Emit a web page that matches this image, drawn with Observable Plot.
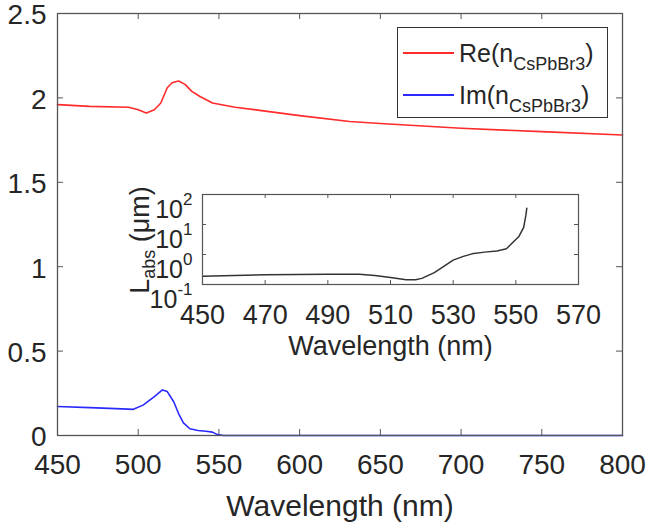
<!DOCTYPE html>
<html>
<head>
<meta charset="utf-8">
<script src="https://cdn.jsdelivr.net/npm/d3@7"></script>
<script src="https://cdn.jsdelivr.net/npm/@observablehq/plot@0.6"></script>
<style>
  body { margin: 0; background: white; }
  #wrap { position: relative; width: 647px; height: 524px; font-family: "Liberation Sans", Arial, sans-serif; color: #262626; overflow: hidden; }
  #wrap > * { position: absolute; }
  .legend { left: 397px; top: 27px; width: 211px; height: 91px; border: 1px solid #333; background: white; box-sizing: border-box; }
  .legend .row { position: absolute; left: 5px; height: 30px; display: flex; align-items: center; font-size: 25px; white-space: nowrap; }
  .legend .sw { display: inline-block; width: 51px; height: 2px; margin-right: 5px; }
  .legend sub { font-size: 18px; vertical-align: -8px; line-height: 0; }
  .ylab { left: 140px; top: 240px; transform: translate(-50%, -50%) rotate(-90deg); font-size: 27px; white-space: nowrap; }
  .ylab sub { font-size: 18px; vertical-align: -6px; line-height: 0; }
</style>
</head>
<body>
<div id="wrap"></div>
<script>
// ---- data ----
const reWl = [450, 470, 494, 500, 505, 510, 514, 518, 521, 525, 529, 533, 538, 546, 560, 580, 600, 631, 650, 700, 750, 800];
const reN  = [1.96, 1.95, 1.945, 1.93, 1.91, 1.93, 1.97, 2.06, 2.09, 2.10, 2.08, 2.04, 2.01, 1.97, 1.945, 1.92, 1.895, 1.86, 1.848, 1.82, 1.80, 1.78];

const imWl = [450, 470, 490, 497, 503, 510, 515, 518, 522, 525, 528, 532, 537, 542, 546, 549, 553, 600, 700, 800];
const imN  = [0.172, 0.165, 0.158, 0.155, 0.18, 0.23, 0.27, 0.26, 0.2, 0.13, 0.075, 0.04, 0.03, 0.025, 0.02, 0.005, 0, 0, 0, 0];

const labsWl = [450, 470, 490, 500, 505, 510, 515, 518, 520, 524, 527, 530, 533, 536, 540, 544, 547, 549, 551, 552.5, 553.2, 553.5];
const labsL  = [0.19, 0.21, 0.22, 0.22, 0.2, 0.17, 0.145, 0.145, 0.16, 0.25, 0.4, 0.65, 0.85, 1.05, 1.2, 1.3, 1.55, 2.5, 4, 8, 20, 35];

const xTicks = [450, 500, 550, 600, 650, 700, 750, 800];
const yTicks = [0, 0.5, 1, 1.5, 2, 2.5];
const insetXTicks = [450, 470, 490, 510, 530, 550, 570];
const insetYTicks = [0.1, 1, 10, 100];

const legendLabels = ["Re", "Im"];
const legendColors = ["#ff2a2a", "#2a2aff"];
const material = "CsPbBr3";
const xLabel = "Wavelength (nm)";

// ---- main plot ----
const reData = reWl.map((w, i) => ({w, v: reN[i]}));
const imData = imWl.map((w, i) => ({w, v: imN[i]}));
const labsData = labsWl.map((w, i) => ({w, v: labsL[i]}));

const W = 647, H = 524;
const mL = 57, mR = 25, mT = 13, mB = 89;
const iW = W - mL - mR, iH = H - mT - mB;
const axisColor = "#555";
const tickLen = 6;

const main = Plot.plot({
  width: W, height: H,
  marginLeft: mL, marginRight: mR, marginTop: mT, marginBottom: mB,
  style: {fontFamily: '"Liberation Sans", Arial, sans-serif', fontSize: "30px", color: "#262626", background: "white", overflow: "visible"},
  x: {domain: [450, 800]},
  y: {domain: [0, 2.5]},
  marks: [
    Plot.tickX(xTicks, {x: d => d, insetTop: iH - tickLen, stroke: axisColor}),
    Plot.tickX(xTicks, {x: d => d, insetBottom: iH - tickLen, stroke: axisColor}),
    Plot.tickY(yTicks, {y: d => d, insetRight: iW - tickLen, stroke: axisColor}),
    Plot.tickY(yTicks, {y: d => d, insetLeft: iW - tickLen, stroke: axisColor}),
    Plot.line(reData, {x: "w", y: "v", stroke: legendColors[0], strokeWidth: 1.6}),
    Plot.line(imData, {x: "w", y: "v", stroke: legendColors[1], strokeWidth: 1.6}),
    Plot.frame({stroke: axisColor, strokeWidth: 1.3}),
    Plot.axisX({ticks: xTicks, tickSize: 0, tickPadding: 19, fontSize: 28, tickFormat: d => String(d),
      label: null, fill: "#262626"}),
    Plot.axisX({ticks: [], tickSize: 0, label: xLabel, labelAnchor: "center", labelArrow: "none", labelOffset: 80, fill: "#262626"}),
    Plot.axisY({ticks: yTicks, tickSize: 0, tickPadding: 11, dy: 2, fontSize: 28, tickFormat: d => String(d), label: null, fill: "#262626"})
  ]
});

// ---- inset ----
const insW = 460, insH = 175;
const imL = 62, imR = 22, imT = 9, imB = 76;
const iiW = insW - imL - imR, iiH = insH - imT - imB;

const inset = Plot.plot({
  width: insW, height: insH,
  marginLeft: imL, marginRight: imR, marginTop: imT, marginBottom: imB,
  style: {fontFamily: '"Liberation Sans", Arial, sans-serif', fontSize: "27px", color: "#262626", background: "white", overflow: "visible"},
  x: {domain: [450, 570]},
  y: {type: "log", domain: [0.1, 100]},
  marks: [
    Plot.tickX(insetXTicks, {x: d => d, insetTop: iiH - 4, stroke: axisColor}),
    Plot.tickX(insetXTicks, {x: d => d, insetBottom: iiH - 4, stroke: axisColor}),
    Plot.tickY(insetYTicks, {y: d => d, insetRight: iiW - 4, stroke: axisColor}),
    Plot.tickY(insetYTicks, {y: d => d, insetLeft: iiW - 4, stroke: axisColor}),
    Plot.line(labsData, {x: "w", y: "v", stroke: "#333", strokeWidth: 1.5}),
    Plot.frame({stroke: axisColor, strokeWidth: 1.2}),
    Plot.axisX({ticks: insetXTicks, tickSize: 0, tickPadding: 20, tickFormat: d => String(d),
      label: xLabel, labelAnchor: "center", labelArrow: "none", labelOffset: 70, fill: "#262626"}),
    Plot.axisY({ticks: insetYTicks, tickSize: 0, tickPadding: 10, tickFormat: d => "10|" + Math.round(Math.log10(d)),
      label: null, fill: "#262626", fontSize: 25})
  ]
});

// superscripts for the log tick labels
d3.select(inset).selectAll("text").each(function() {
  const t = d3.select(this);
  const s = t.text();
  if (s.startsWith("10|")) {
    const e = s.slice(3);
    t.text("");
    t.append("tspan").text("10");
    t.append("tspan").attr("font-size", "17px").attr("dy", "-0.75em").text(e);
    t.attr("dy", "0.6em");
  }
});

const wrap = document.getElementById("wrap");
main.style.left = "0px"; main.style.top = "0px";
wrap.appendChild(main);
inset.style.left = "140px"; inset.style.top = "185px";
wrap.appendChild(inset);

// inset y label
const yl = document.createElement("div");
yl.className = "ylab";
yl.innerHTML = "L<sub>abs</sub> (\u03bcm)";
wrap.appendChild(yl);

// legend
const leg = document.createElement("div");
leg.className = "legend";
legendLabels.forEach((lab, i) => {
  const r = document.createElement("div");
  r.className = "row";
  r.style.top = (i === 0 ? 10 : 52) + "px";
  r.innerHTML = `<span class="sw" style="background:${legendColors[i]}"></span><span>${lab}(n<sub>${material}</sub>)</span>`;
  leg.appendChild(r);
});
wrap.appendChild(leg);
</script>
</body>
</html>
